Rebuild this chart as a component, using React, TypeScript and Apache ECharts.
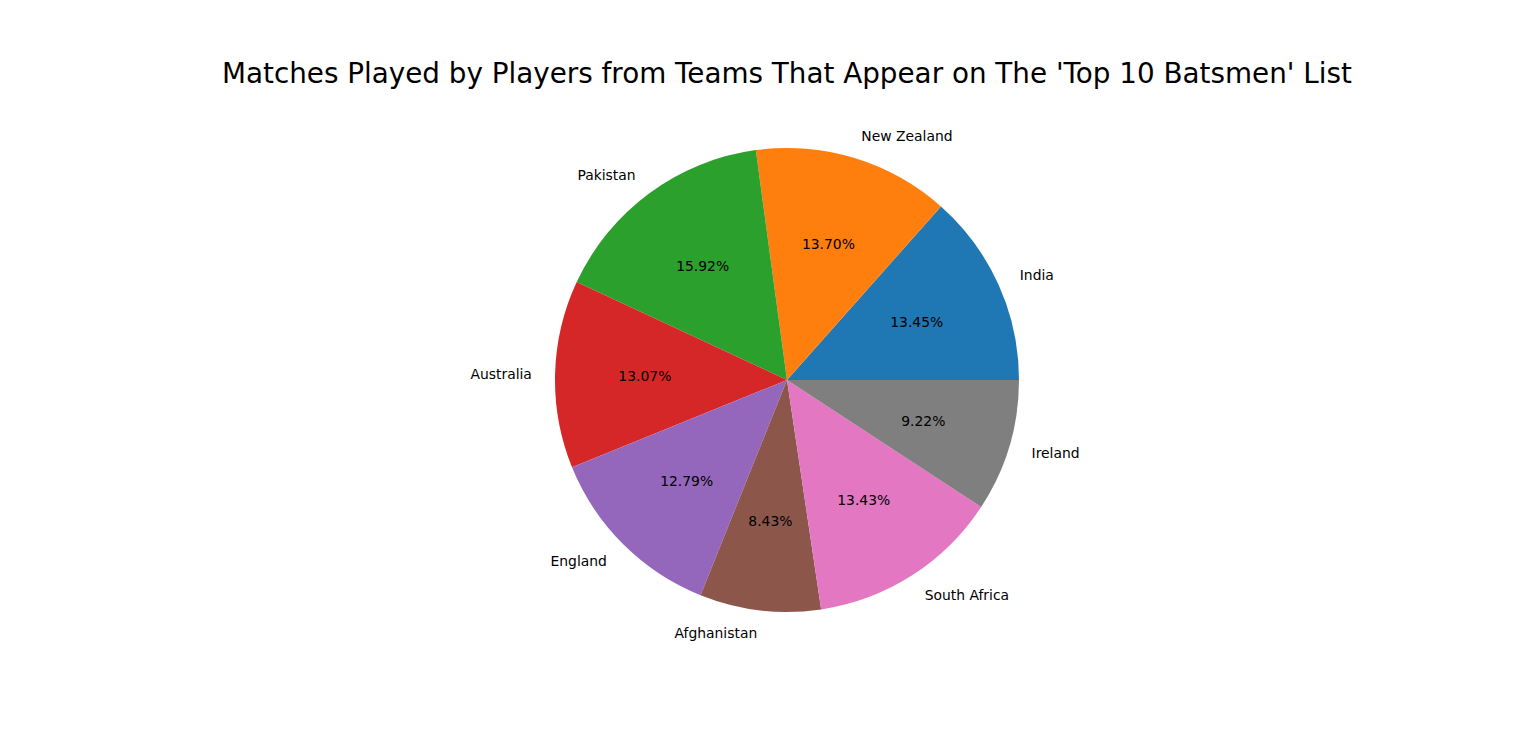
import React, { useEffect, useRef } from "react";
import * as echarts from "echarts";

const teams = ["India", "New Zealand", "Pakistan", "Australia", "England", "Afghanistan", "South Africa", "Ireland"];
const shares = [13.45, 13.7, 15.92, 13.07, 12.79, 8.43, 13.43, 9.22];
const colors = ["#1f77b4", "#ff7f0e", "#2ca02c", "#d62728", "#9467bd", "#8c564b", "#e377c2", "#7f7f7f"];
const titleText = "Matches Played by Players from Teams That Appear on The 'Top 10 Batsmen' List";

export default function App() {
  const ref = useRef<HTMLDivElement>(null);
  useEffect(() => {
    if (!ref.current) return;
    const chart = echarts.init(ref.current, null, { renderer: "svg" });
    const R = 232;
    const cx = 787;
    const cy = 380;
    const font = "DejaVu Sans";
    const data = teams.map((t, i) => ({ name: t, value: shares[i], itemStyle: { color: colors[i] } }));
    chart.setOption({
      animation: false,
      backgroundColor: "#ffffff",
      title: {
        text: titleText,
        left: 217,
        top: 54,
        textStyle: { fontFamily: font, fontSize: 27.8, fontWeight: "normal", color: "#000" },
      },
      series: [
        {
          type: "pie",
          center: [cx, cy],
          radius: [0, R],
          startAngle: 0,
          clockwise: false,
          avoidLabelOverlap: false,
          silent: true,
          itemStyle: { borderWidth: 0 },
          label: {
            show: true,
            position: "outside",
            fontFamily: font,
            fontSize: 13.9,
            color: "#000",
            distanceToLabelLine: 0,
            alignTo: "none",
          },
          labelLine: { show: false, length: 0.1 * R, length2: 0 },
          data,
        },
        {
          type: "pie",
          center: [cx, cy],
          radius: [0.2 * R, R],
          startAngle: 0,
          clockwise: false,
          avoidLabelOverlap: false,
          silent: true,
          itemStyle: { color: "rgba(0,0,0,0)", borderWidth: 0 },
          label: {
            show: true,
            position: "inside",
            fontFamily: font,
            fontSize: 13.9,
            color: "#000",
            formatter: (p: any) => p.value.toFixed(2) + "%",
          },
          labelLine: { show: false },
          data: teams.map((t, i) => ({ name: t, value: shares[i] })),
        },
      ],
    });
    return () => chart.dispose();
  }, []);
  return <div ref={ref} style={{ position: "fixed", left: 0, top: 0, width: 1536, height: 754 }} />;
}
